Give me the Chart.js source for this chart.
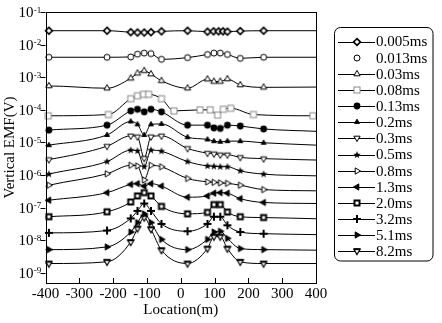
<!DOCTYPE html>
<html>
<head>
<meta charset="utf-8">
<script src="https://cdn.jsdelivr.net/npm/chart.js@4.4.1/dist/chart.umd.min.js"></script>
<style>
  html, body { margin: 0; padding: 0; background: #fff; }
  #wrap { width: 442px; height: 323px; }
</style>
</head>
<body>
<div id="wrap"><canvas id="emfChart" width="442" height="323"></canvas></div>
<script>
// ── Data ──
const timeLabels = ['0.005ms', '0.013ms', '0.03ms', '0.08ms', '0.13ms', '0.2ms', '0.3ms',
                    '0.5ms', '0.8ms', '1.3ms', '2.0ms', '3.2ms', '5.1ms', '8.2ms'];

const xStd     = [-390, -218, -148, -128, -108, -88, -57, 20, 79, 98, 117, 138, 176, 245];
const xDiamond = [-390, -218, -148, -128, -108, -88, -57, 20, 79, 97, 112, 125, 138, 176, 245];
const xSquare  = [-392, -214, -148, -128, -110, -95, -57, -20, 57, 87, 109, 126, 148, 215, 391];

const v0005 = [2.67e-2, 2.67e-2, 2.4e-2, 2.35e-2, 2.35e-2, 2.4e-2, 2.55e-2, 2.67e-2, 2.5e-2, 2.55e-2, 2.55e-2, 2.55e-2, 2.5e-2, 2.6e-2, 2.67e-2];
const v0013 = [4.1e-3, 4.1e-3, 4.2e-3, 5.1e-3, 5.5e-3, 5.3e-3, 3.55e-3, 4.0e-3, 5.0e-3, 5.5e-3, 5.5e-3, 5.0e-3, 3.8e-3, 4.1e-3];
const v003  = [5.4e-4, 4.6e-4, 9.3e-4, 1.32e-3, 1.58e-3, 1.25e-3, 7.8e-4, 4.6e-4, 8.7e-4, 7.4e-4, 7.4e-4, 8.8e-4, 5.8e-4, 4.9e-4];
const v008  = [6.6e-5, 7.2e-5, 2.2e-4, 2.7e-4, 3.0e-4, 3.0e-4, 2.2e-4, 9.3e-5, 1.0e-4, 1.0e-4, 6.9e-5, 1.04e-4, 1.12e-4, 7.2e-5, 6.6e-5];
const v013  = [2.4e-5, 3.4e-5, 9.3e-5, 1.04e-4, 8.7e-5, 1.04e-4, 8.7e-5, 3.4e-5, 3.4e-5, 2.8e-5, 2.7e-5, 3.4e-5, 3.2e-5, 2.6e-5];
const v02   = [8.3e-6, 1.7e-5, 4.4e-5, 3.6e-5, 1.7e-5, 3.6e-5, 3.7e-5, 1.45e-5, 1.24e-5, 1.1e-5, 1.05e-5, 1.1e-5, 1.1e-5, 9.8e-6];
const v03   = [3.0e-6, 7.7e-6, 1.6e-5, 1.5e-5, 3.3e-6, 1.5e-5, 1.6e-5, 6.6e-6, 4.7e-6, 4.5e-6, 4.2e-6, 4.2e-6, 3.5e-6, 3.2e-6];
const v05   = [1.07e-6, 2.6e-6, 5.8e-6, 5.5e-6, 1.8e-6, 5.8e-6, 5.4e-6, 2.6e-6, 1.9e-6, 1.85e-6, 1.8e-6, 1.8e-6, 1.35e-6, 1.07e-6];
const v08   = [4.9e-7, 1.1e-6, 2.0e-6, 1.9e-6, 7.1e-7, 2.0e-6, 1.8e-6, 7.9e-7, 6.2e-7, 6.0e-7, 5.8e-7, 5.6e-7, 4.9e-7, 3.6e-7];
const v13   = [1.7e-7, 2.9e-7, 5.2e-7, 5.5e-7, 4.6e-7, 5.5e-7, 4.6e-7, 2.1e-7, 2.3e-7, 2.8e-7, 2.9e-7, 2.8e-7, 1.9e-7, 1.45e-7];
const v20   = [5.3e-8, 7.5e-8, 1.5e-7, 2.3e-7, 2.9e-7, 2.3e-7, 1.1e-7, 6.5e-8, 7.2e-8, 1.25e-7, 1.25e-7, 7.4e-8, 5.3e-8, 5.0e-8];
const v32   = [1.7e-8, 2.0e-8, 4.7e-8, 8.0e-8, 1.35e-7, 8.0e-8, 3.2e-8, 1.9e-8, 3.2e-8, 5.3e-8, 5.3e-8, 2.9e-8, 1.8e-8, 1.6e-8];
const v51   = [5.2e-9, 6.3e-9, 1.8e-8, 3.5e-8, 6.5e-8, 3.5e-8, 1.07e-8, 5.2e-9, 1.07e-8, 1.8e-8, 1.9e-8, 1.15e-8, 5.6e-9, 5.2e-9];
const v82   = [1.95e-9, 2.2e-9, 8.9e-9, 2.3e-8, 5.0e-8, 2.2e-8, 5.0e-9, 1.95e-9, 5.6e-9, 1.3e-8, 1.3e-8, 5.6e-9, 2.2e-9, 1.95e-9];

// where each fitted curve meets the left / right frame
const edgeLeft  = [2.67e-2, 4.1e-3, 5.4e-4, 6.6e-5, 2.3e-5, 8.0e-6, 2.9e-6, 1.0e-6, 4.6e-7, 1.65e-7, 5.2e-8, 1.7e-8, 5.2e-9, 1.95e-9];
const edgeRight = [2.67e-2, 4.1e-3, 5.0e-4, 6.6e-5, 2.2e-5, 8.3e-6, 2.9e-6, 9.5e-7, 3.3e-7, 1.35e-7, 4.6e-8, 1.5e-8, 5.0e-9, 1.95e-9];

const yTicks = [1e-9, 1e-8, 1e-7, 1e-6, 1e-5, 1e-4, 1e-3, 1e-2, 1e-1];
const xTicks = [-400, -300, -200, -100, 0, 100, 200, 300, 400];

const FONT = "'Liberation Serif', 'Times New Roman', serif";

// ── Marker images ──
function marker(draw) {
    const c = document.createElement('canvas');
    c.width = 12; c.height = 12;
    const g = c.getContext('2d');
    g.translate(6, 6);
    g.lineWidth = 1;
    g.strokeStyle = '#000';
    g.fillStyle = '#fff';
    draw(g);
    return c;
}
function poly(g, pts, fill, stroke) {
    g.beginPath();
    pts.forEach((p, i) => i ? g.lineTo(p[0], p[1]) : g.moveTo(p[0], p[1]));
    g.closePath();
    if (fill) { g.fillStyle = fill; g.fill(); }
    if (stroke) { g.strokeStyle = stroke; g.stroke(); }
}
function tri(g, r, dirDeg, fill, lw) {
    const a = dirDeg * Math.PI / 180;
    const pts = [0, 1, 2].map(k => [r * Math.cos(a + k * 2 * Math.PI / 3), r * Math.sin(a + k * 2 * Math.PI / 3)]);
    g.lineWidth = lw || 1;
    poly(g, pts, fill, '#000');
}
const markers = [
    marker(g => { g.lineWidth = 1.7; poly(g, [[0, -3.4], [3.4, 0], [0, 3.4], [-3.4, 0]], '#fff', '#000'); }),
    marker(g => { g.beginPath(); g.arc(0, 0, 3, 0, 2 * Math.PI); g.fill(); g.stroke(); }),
    marker(g => tri(g, 3.6, -90, '#fff')),
    marker(g => { g.fillRect(-3, -3, 6, 6); g.strokeStyle = '#8a8a8a'; g.strokeRect(-3, -3, 6, 6); }),
    marker(g => { g.beginPath(); g.arc(0, 0, 3.4, 0, 2 * Math.PI); g.fillStyle = '#000'; g.fill(); }),
    marker(g => tri(g, 2.8, -90, '#000')),
    marker(g => tri(g, 3.6, 90, '#fff')),
    marker(g => {
        const pts = [];
        for (let k = 0; k < 10; k++) {
            const r = k % 2 ? 1.6 : 3.9, a = -Math.PI / 2 + k * Math.PI / 5;
            pts.push([r * Math.cos(a), r * Math.sin(a)]);
        }
        poly(g, pts, '#000', null);
    }),
    marker(g => tri(g, 3.6, 0, '#fff')),
    marker(g => tri(g, 3.6, 180, '#000')),
    marker(g => { g.fillStyle = '#000'; g.fillRect(-3.5, -3.5, 7, 7); g.fillStyle = '#fff'; g.fillRect(-1.5, -1.5, 3, 3); }),
    marker(g => { g.lineWidth = 2; g.beginPath(); g.moveTo(-4, 0); g.lineTo(4, 0); g.moveTo(0, -4); g.lineTo(0, 4); g.stroke(); }),
    marker(g => tri(g, 3.6, 0, '#000')),
    marker(g => { tri(g, 3.6, 90, '#fff', 1.2); g.lineWidth = 2; g.beginPath(); g.moveTo(-3.3, -1.8); g.lineTo(3.3, -1.8); g.stroke(); })
];
const legendLine = [true, false, true, true, true, true, true, true, true, true, true, true, true, true];

const xSets = [xDiamond, xStd, xStd, xSquare, xStd, xStd, xStd, xStd, xStd, xStd, xStd, xStd, xStd, xStd];
const ySets = [v0005, v0013, v003, v008, v013, v02, v03, v05, v08, v13, v20, v32, v51, v82];

function buildSeries(i) {
    const pts = xSets[i].map((x, k) => ({ x, y: ySets[i][k], m: true }));
    return [{ x: -400, y: edgeLeft[i] }, ...pts, { x: 400, y: edgeRight[i] }];
}

const datasets = timeLabels.map((lab, i) => ({
    label: lab,
    data: buildSeries(i),
    borderColor: '#000',
    borderWidth: 1,
    pointStyle: markers[i],
    pointRadius: ctx => (ctx.raw && ctx.raw.m) ? 4 : 0,
    pointHoverRadius: ctx => (ctx.raw && ctx.raw.m) ? 4 : 0,
    cubicInterpolationMode: 'monotone',
    clip: false
}));

// ── Frame, ticks, superscript labels, boxed legend ──
const framePlugin = {
    id: 'frame',
    afterDraw(chart) {
        const { ctx, chartArea: a, scales } = chart;
        ctx.save();
        ctx.strokeStyle = '#000';
        ctx.lineWidth = 1;
        ctx.strokeRect(Math.round(a.left) + 0.5, Math.round(a.top) + 0.5,
                       Math.round(a.right - a.left) - 1, Math.round(a.bottom - a.top));

        // x ticks point inward
        ctx.beginPath();
        xTicks.slice(1, -1).forEach(v => {
            const px = Math.round(scales.x.getPixelForValue(v)) + 0.5;
            ctx.moveTo(px, a.bottom);
            ctx.lineTo(px, a.bottom - 5);
        });
        // y ticks point outward
        yTicks.forEach(v => {
            const py = Math.round(scales.y.getPixelForValue(v)) + 0.5;
            ctx.moveTo(a.left - 5, py);
            ctx.lineTo(a.left, py);
        });
        ctx.stroke();

        // y labels 10^-n
        ctx.fillStyle = '#000';
        yTicks.forEach(v => {
            const py = scales.y.getPixelForValue(v);
            const n = Math.round(Math.log10(v));
            ctx.font = '15px ' + FONT;
            ctx.textAlign = 'right';
            ctx.textBaseline = 'middle';
            ctx.fillText('10', 33.5, py + 1);
            ctx.font = '9px ' + FONT;
            ctx.textAlign = 'left';
            ctx.textBaseline = 'alphabetic';
            ctx.fillText(String(n), 33.8, py + 0.5);
        });

        // legend box
        const bx = 334.5, by = 27.5, bw = 98.5, bh = 233.5, r = 6;
        ctx.beginPath();
        ctx.moveTo(bx + r, by);
        ctx.arcTo(bx + bw, by, bx + bw, by + bh, r);
        ctx.arcTo(bx + bw, by + bh, bx, by + bh, r);
        ctx.arcTo(bx, by + bh, bx, by, r);
        ctx.arcTo(bx, by, bx + bw, by, r);
        ctx.closePath();
        ctx.stroke();

        ctx.font = '15px ' + FONT;
        ctx.textAlign = 'left';
        ctx.textBaseline = 'middle';
        timeLabels.forEach((lab, i) => {
            const y = 41.5 + i * 16.15;
            if (legendLine[i]) {
                ctx.beginPath();
                ctx.moveTo(338, Math.round(y) + 0.5);
                ctx.lineTo(375, Math.round(y) + 0.5);
                ctx.stroke();
            }
            ctx.drawImage(markers[i], 357 - 6, Math.round(y) - 6 + 0.5 - 0.5);
            ctx.fillText(lab, 376, y + 1);
        });
        ctx.restore();
    }
};

new Chart(document.getElementById('emfChart'), {
    type: 'line',
    data: { datasets },
    options: {
        responsive: false,
        animation: false,
        devicePixelRatio: 1,
        layout: { padding: { top: 12, right: 126, bottom: 0, left: 0 } },
        plugins: { legend: { display: false }, tooltip: { enabled: false } },
        scales: {
            x: {
                type: 'linear',
                min: -400,
                max: 400,
                afterBuildTicks: s => { s.ticks = xTicks.map(v => ({ value: v })); },
                afterFit: s => { s.height = 40; },
                grid: { display: false, drawTicks: false },
                border: { display: false },
                ticks: { color: '#000', padding: 2, maxRotation: 0, autoSkip: false, font: { family: FONT, size: 15 } },
                title: { display: true, text: 'Location(m)', color: '#000', padding: { top: 4, bottom: 4 }, font: { family: FONT, size: 15 } }
            },
            y: {
                type: 'logarithmic',
                min: 4.93e-10,
                max: 1e-1,
                afterBuildTicks: s => { s.ticks = yTicks.map(v => ({ value: v })); },
                afterFit: s => { s.width = 45.5; },
                grid: { display: false, drawTicks: false },
                border: { display: false },
                ticks: { display: false },
                title: { display: true, text: 'Vertical EMF(V)', color: '#000', padding: { top: 1, bottom: 1 }, font: { family: FONT, size: 15 } }
            }
        }
    },
    plugins: [framePlugin]
});
</script>
</body>
</html>
